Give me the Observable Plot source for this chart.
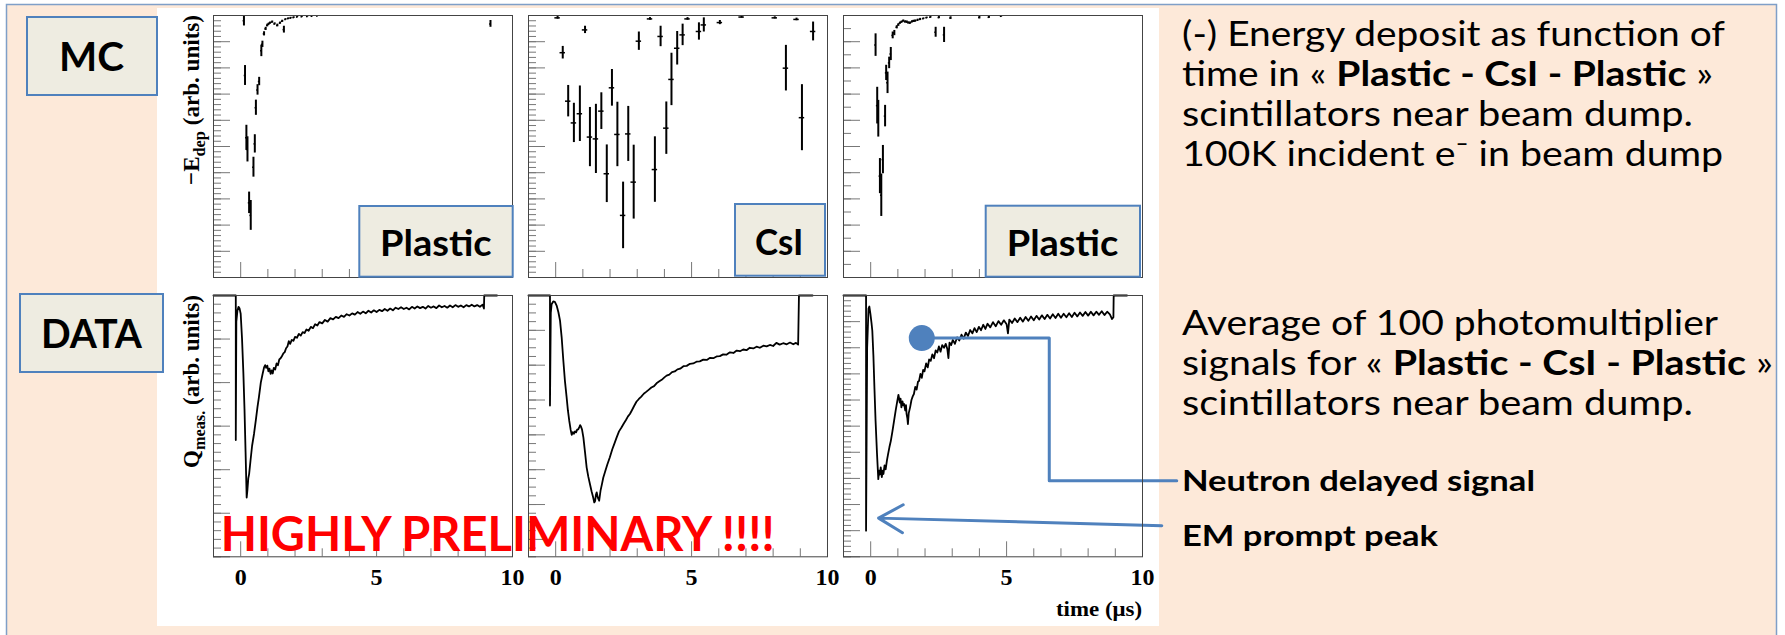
<!DOCTYPE html>
<html><head><meta charset="utf-8">
<script src="https://cdn.jsdelivr.net/npm/d3@7"></script>
<script src="https://cdn.jsdelivr.net/npm/@observablehq/plot@0.6"></script>
<style>
html,body{margin:0;padding:0;background:#fff;}
#slide{position:relative;width:1785px;height:635px;overflow:hidden;}
.abs{position:absolute;left:0;top:0;}
</style></head><body>
<div id="slide">
<svg class="abs" width="1785" height="635">
  <rect x="6.5" y="4.5" width="1770" height="640" fill="#fde9d9" stroke="#7f9fc8" stroke-width="1.5"/>
  <rect x="157" y="8" width="1002" height="618" fill="#ffffff"/>
</svg>
<div id="plots"></div>
<svg id="ov" class="abs" width="1785" height="635" style="pointer-events:none">
  <g fill="#eeece1" stroke="#4f81bd" stroke-width="2">
    <rect x="27" y="17" width="130" height="78"/>
    <rect x="20" y="294" width="143" height="78"/>
    <rect x="359.3" y="206" width="153.4" height="70.7"/>
    <rect x="735" y="204" width="90" height="71.7"/>
    <rect x="985.7" y="205.7" width="154.3" height="71"/>
  </g>
  <g font-family="Lato" font-weight="bold" fill="#000">
    <text x="59" y="70.5" font-size="40" textLength="65" lengthAdjust="spacingAndGlyphs">MC</text>
    <text x="41" y="348" font-size="40" textLength="101" lengthAdjust="spacingAndGlyphs">DATA</text>
    <text x="380" y="256" font-size="36" textLength="111.7" lengthAdjust="spacingAndGlyphs">Plastic</text>
    <text x="755" y="255" font-size="36" textLength="48.3" lengthAdjust="spacingAndGlyphs">CsI</text>
    <text x="1006.7" y="256" font-size="36" textLength="111.6" lengthAdjust="spacingAndGlyphs">Plastic</text>
    <text x="220.7" y="551" font-size="48" fill="#ff0000" textLength="554" lengthAdjust="spacingAndGlyphs">HIGHLY PRELIMINARY !!!!</text>
  </g>
  <g font-family="Liberation Serif" font-weight="bold" fill="#000">
    <text transform="translate(199,185) rotate(-90)" font-size="24" textLength="170" lengthAdjust="spacingAndGlyphs">−E<tspan dy="6" font-size="17">dep</tspan><tspan dy="-6"> (arb. units)</tspan></text>
    <text transform="translate(199,468) rotate(-90)" font-size="24" textLength="173" lengthAdjust="spacingAndGlyphs">Q<tspan dy="6" font-size="17">meas.</tspan><tspan dy="-6"> (arb. units)</tspan></text>
    <text x="1056" y="616" font-size="22" textLength="86" lengthAdjust="spacingAndGlyphs">time (μs)</text>
  </g>
  <g font-family="Lato" font-size="34" fill="#000">
    <text x="1182" y="46" textLength="543" lengthAdjust="spacingAndGlyphs">(-) Energy deposit as function of</text>
    <text x="1182" y="86" textLength="531" lengthAdjust="spacingAndGlyphs">time in « <tspan font-weight="bold">Plastic - CsI - Plastic</tspan> »</text>
    <text x="1182" y="126" textLength="511" lengthAdjust="spacingAndGlyphs">scintillators near beam dump.</text>
    <text x="1182" y="166" textLength="541" lengthAdjust="spacingAndGlyphs">100K incident e⁻ in beam dump</text>
    <text x="1182" y="334.5" textLength="536" lengthAdjust="spacingAndGlyphs">Average of 100 photomultiplier</text>
    <text x="1182" y="374.5" textLength="591" lengthAdjust="spacingAndGlyphs">signals for « <tspan font-weight="bold">Plastic - CsI - Plastic</tspan> »</text>
    <text x="1182" y="414.5" textLength="511" lengthAdjust="spacingAndGlyphs">scintillators near beam dump.</text>
  </g>
  <g font-family="Lato" font-size="28" font-weight="bold" fill="#000">
    <text x="1182" y="491" textLength="353" lengthAdjust="spacingAndGlyphs">Neutron delayed signal</text>
    <text x="1182" y="546" textLength="256" lengthAdjust="spacingAndGlyphs">EM prompt peak</text>
  </g>
</svg>
</div>
<script>
// ---------- data (time in µs, signal in arbitrary units) ----------
const timeTicksMajor = [0, 5, 10];
const timeTicksMinor = [-1, 1, 2, 3, 4, 6, 7, 8, 9];
const timeTickLabels = [0, 5, 10];

// MC: [time, -Edep, error]
const mcPlastic1 = [[0.12,-0.2,0.2],[0.16,-2.29,0.38],[0.21,-4.67,0.48],[0.25,-5.11,0.48],[0.31,-7.15,0.41],[0.37,-7.63,0.57],[0.47,-5.79,0.38],[0.52,-4.9,0.35],[0.56,-3.52,0.29],[0.62,-2.84,0.2],[0.68,-2.52,0.16],[0.76,-1.35,0.22],[0.8,-1.1,0.12],[0.86,-0.7,0.08],[0.92,-0.51,0.06],[0.98,-0.38,0.05],[1.03,-0.33,0.04],[1.08,-0.29,0.04],[1.16,-0.25,0.04],[1.25,-0.32,0.04],[1.35,-0.38,0.05],[1.45,-0.29,0.04],[1.53,-0.22,0.04],[1.59,-0.54,0.13],[1.65,-0.15,0.03],[1.75,-0.12,0.03],[1.84,-0.1,0.03],[1.95,-0.08,0.03],[2.08,-0.06,0.02],[2.25,-0.05,0.02],[2.45,-0.04,0.02],[2.62,-0.03,0.02],[2.82,-0.02,0.02],[9.19,-0.32,0.13]];
const mcCsI = [[0.07,-0.09,0.05],[0.26,-1.42,0.24],[0.46,-3.27,0.6],[0.67,-4.1,0.75],[0.89,-3.75,1.06],[1.08,-0.55,0.14],[1.26,-4.64,1.13],[1.48,-4.71,1.32],[1.68,-3.65,0.7],[1.88,-6.04,1.1],[2.07,-2.76,0.7],[2.27,-4.54,1.23],[2.48,-7.63,1.27],[2.67,-4.52,1.05],[2.87,-6.36,1.41],[3.06,-0.98,0.35],[3.47,-0.13,0.05],[3.65,-5.88,1.25],[3.86,-0.8,0.39],[4.07,-4.3,1.0],[4.26,-2.44,1.0],[4.47,-1.25,0.64],[4.67,-0.74,0.41],[4.85,-0.13,0.05],[5.27,-0.61,0.33],[5.45,-0.36,0.27],[6.04,-0.27,0.08],[6.84,-0.06,0.04],[8.06,-0.09,0.04],[8.47,-2.01,0.87],[8.86,-0.15,0.05],[9.06,-3.9,1.26],[9.47,-0.61,0.36]];
const mcPlastic3 = [[0.18,-1.13,0.43],[0.24,-3.44,0.7],[0.28,-3.94,0.7],[0.34,-6.13,0.67],[0.39,-6.86,0.81],[0.45,-5.5,0.54],[0.53,-3.84,0.41],[0.57,-2.19,0.29],[0.62,-2.57,0.41],[0.68,-1.81,0.22],[0.74,-1.47,0.25],[0.81,-0.76,0.13],[0.87,-0.67,0.1],[0.96,-0.45,0.06],[1.02,-0.36,0.05],[1.08,-0.29,0.04],[1.14,-0.25,0.04],[1.2,-0.21,0.04],[1.27,-0.24,0.04],[1.33,-0.25,0.04],[1.39,-0.28,0.04],[1.45,-0.29,0.04],[1.52,-0.24,0.04],[1.58,-0.22,0.04],[1.64,-0.21,0.04],[1.73,-0.18,0.04],[1.82,-0.15,0.04],[1.94,-0.12,0.03],[2.06,-0.09,0.03],[2.2,-0.07,0.03],[2.39,-0.64,0.19],[2.51,-0.08,0.04],[2.7,-0.74,0.29],[2.94,-0.1,0.05],[4.0,-0.08,0.05],[4.35,-0.07,0.04],[4.8,-0.03,0.03]];
const mcPlasticBinHalfWidth = 0.03;
const mcCsIBinHalfWidth = 0.1;

// DATA: [time, Qmeas]
const dataPlastic1 = [[-1,0],[-0.18,0],[-0.18,-3.32],[-0.16,-0.6],[-0.12,-0.35],[-0.08,-0.26],[-0.04,-0.3],[0.0,-0.42],[0.05,-1.0],[0.1,-1.8],[0.14,-2.6],[0.18,-3.6],[0.22,-4.64],[0.25,-4.45],[0.28,-4.2],[0.31,-4.1],[0.36,-3.8],[0.42,-3.45],[0.49,-3.18],[0.56,-2.85],[0.62,-2.55],[0.67,-2.34],[0.74,-2.0],[0.8,-1.82],[0.86,-1.65],[0.9,-1.6],[0.94,-1.66],[0.98,-1.61],[1.02,-1.74],[1.06,-1.68],[1.1,-1.8],[1.14,-1.72],[1.18,-1.79],[1.22,-1.66],[1.27,-1.7],[1.32,-1.56],[1.37,-1.6],[1.42,-1.47],[1.47,-1.44],[1.52,-1.39],[1.57,-1.33],[1.62,-1.3],[1.67,-1.21],[1.72,-1.17],[1.77,-1.05],[1.82,-1.11],[1.88,-1.02],[1.94,-1.04],[2.0,-0.95],[2.07,-0.97],[2.14,-0.88],[2.21,-0.92],[2.28,-0.84],[2.35,-0.86],[2.42,-0.78],[2.5,-0.81],[2.58,-0.72],[2.66,-0.75],[2.74,-0.66],[2.82,-0.69],[2.9,-0.61],[3.0,-0.64],[3.1,-0.56],[3.2,-0.6],[3.3,-0.52],[3.4,-0.55],[3.5,-0.49],[3.6,-0.52],[3.7,-0.46],[3.8,-0.49],[3.9,-0.43],[4.0,-0.46],[4.1,-0.41],[4.2,-0.44],[4.3,-0.38],[4.4,-0.42],[4.5,-0.37],[4.6,-0.41],[4.7,-0.35],[4.8,-0.39],[4.9,-0.34],[5.0,-0.38],[5.1,-0.33],[5.2,-0.36],[5.3,-0.31],[5.4,-0.35],[5.5,-0.3],[5.6,-0.34],[5.7,-0.28],[5.8,-0.31],[5.9,-0.27],[6.0,-0.31],[6.1,-0.28],[6.2,-0.32],[6.3,-0.26],[6.4,-0.3],[6.5,-0.25],[6.6,-0.29],[6.7,-0.26],[6.8,-0.3],[6.9,-0.24],[7.0,-0.28],[7.1,-0.25],[7.2,-0.29],[7.3,-0.23],[7.4,-0.27],[7.5,-0.24],[7.6,-0.28],[7.7,-0.23],[7.8,-0.27],[7.9,-0.22],[8.0,-0.26],[8.1,-0.23],[8.2,-0.27],[8.3,-0.22],[8.4,-0.25],[8.5,-0.21],[8.6,-0.25],[8.7,-0.22],[8.8,-0.26],[8.9,-0.21],[8.95,-0.3],[8.96,0],[9.43,0]];
const dataCsI = [[-1,0],[-0.21,0],[-0.21,-3.16],[-0.18,-0.5],[-0.15,-0.25],[-0.09,-0.17],[-0.03,-0.18],[0.04,-0.3],[0.1,-0.48],[0.16,-0.72],[0.22,-1.2],[0.28,-1.85],[0.34,-2.45],[0.4,-2.9],[0.45,-3.3],[0.5,-3.6],[0.55,-3.85],[0.59,-4.0],[0.63,-3.92],[0.67,-3.97],[0.71,-3.9],[0.75,-3.93],[0.79,-3.85],[0.83,-3.84],[0.87,-3.78],[0.9,-3.72],[0.93,-3.76],[0.97,-3.85],[1.02,-4.08],[1.08,-4.5],[1.14,-4.94],[1.2,-5.2],[1.26,-5.41],[1.32,-5.62],[1.38,-5.8],[1.42,-5.94],[1.45,-5.9],[1.48,-5.72],[1.51,-5.65],[1.55,-5.8],[1.6,-5.89],[1.65,-5.6],[1.7,-5.42],[1.75,-5.23],[1.82,-5.05],[1.9,-4.85],[1.99,-4.65],[2.08,-4.42],[2.16,-4.25],[2.24,-4.08],[2.33,-3.9],[2.42,-3.79],[2.5,-3.68],[2.58,-3.58],[2.66,-3.47],[2.73,-3.4],[2.8,-3.3],[2.88,-3.18],[2.97,-3.05],[3.06,-2.97],[3.15,-2.9],[3.24,-2.82],[3.34,-2.76],[3.43,-2.7],[3.52,-2.64],[3.62,-2.6],[3.71,-2.52],[3.8,-2.47],[3.9,-2.42],[4.0,-2.35],[4.08,-2.3],[4.18,-2.27],[4.28,-2.2],[4.38,-2.18],[4.48,-2.12],[4.58,-2.1],[4.7,-2.03],[4.82,-2.02],[4.94,-1.96],[5.06,-1.95],[5.18,-1.9],[5.3,-1.89],[5.43,-1.84],[5.56,-1.85],[5.68,-1.79],[5.8,-1.8],[5.92,-1.75],[6.04,-1.74],[6.16,-1.69],[6.28,-1.7],[6.41,-1.63],[6.54,-1.65],[6.66,-1.58],[6.78,-1.6],[6.9,-1.55],[7.02,-1.57],[7.14,-1.5],[7.27,-1.52],[7.39,-1.47],[7.51,-1.5],[7.64,-1.44],[7.76,-1.46],[7.88,-1.42],[8.0,-1.45],[8.12,-1.36],[8.24,-1.41],[8.37,-1.37],[8.5,-1.4],[8.62,-1.35],[8.74,-1.4],[8.84,-1.36],[8.92,-1.41],[8.95,0],[9.45,0]];
const dataPlastic3 = [[-1,0],[-0.17,0],[-0.17,-9.0],[-0.13,-2.0],[-0.08,-0.5],[-0.05,-0.42],[-0.01,-0.7],[0.03,-1.05],[0.06,-1.35],[0.1,-2.3],[0.14,-3.6],[0.18,-4.8],[0.23,-6.0],[0.28,-7.03],[0.31,-6.7],[0.34,-6.85],[0.37,-6.58],[0.41,-6.95],[0.44,-6.7],[0.47,-6.83],[0.51,-6.5],[0.55,-6.65],[0.6,-6.3],[0.64,-6.07],[0.69,-5.8],[0.74,-5.57],[0.8,-5.2],[0.86,-4.8],[0.92,-4.4],[0.98,-4.03],[1.02,-3.8],[1.04,-3.9],[1.07,-4.1],[1.1,-3.95],[1.13,-4.28],[1.17,-4.05],[1.2,-4.2],[1.23,-4.15],[1.27,-4.4],[1.3,-4.2],[1.32,-4.53],[1.35,-4.7],[1.37,-4.92],[1.4,-4.5],[1.45,-4.28],[1.5,-4.0],[1.55,-3.85],[1.59,-3.77],[1.64,-3.5],[1.69,-3.6],[1.74,-3.3],[1.78,-3.27],[1.83,-3.0],[1.88,-3.15],[1.93,-2.85],[1.98,-2.9],[2.04,-2.6],[2.1,-2.75],[2.15,-2.45],[2.21,-2.5],[2.27,-2.25],[2.33,-2.4],[2.39,-2.1],[2.45,-2.18],[2.51,-1.95],[2.57,-2.15],[2.63,-1.9],[2.7,-2.0],[2.76,-1.85],[2.82,-2.05],[2.86,-2.4],[2.9,-1.8],[2.96,-1.9],[3.02,-1.7],[3.1,-1.85],[3.18,-1.6],[3.26,-1.72],[3.34,-1.5],[3.42,-1.65],[3.5,-1.42],[3.58,-1.55],[3.66,-1.32],[3.74,-1.45],[3.82,-1.25],[3.9,-1.4],[3.98,-1.2],[4.06,-1.33],[4.14,-1.12],[4.22,-1.28],[4.3,-1.08],[4.4,-1.22],[4.5,-1.02],[4.6,-1.18],[4.7,-0.98],[4.8,-1.12],[4.9,-0.95],[5.0,-1.1],[5.05,-1.45],[5.1,-0.92],[5.2,-1.05],[5.3,-0.88],[5.4,-1.02],[5.5,-0.85],[5.6,-1.0],[5.7,-0.82],[5.8,-0.97],[5.9,-0.8],[6.0,-0.95],[6.1,-0.78],[6.2,-0.92],[6.3,-0.76],[6.4,-0.9],[6.5,-0.74],[6.6,-0.88],[6.7,-0.72],[6.8,-0.86],[6.9,-0.7],[7.0,-0.85],[7.1,-0.7],[7.2,-0.83],[7.3,-0.68],[7.4,-0.82],[7.5,-0.66],[7.6,-0.8],[7.7,-0.65],[7.8,-0.78],[7.9,-0.63],[8.0,-0.77],[8.1,-0.62],[8.2,-0.76],[8.3,-0.62],[8.4,-0.74],[8.5,-0.6],[8.6,-0.75],[8.7,-0.62],[8.8,-0.72],[8.88,-0.9],[8.93,-0.83],[8.94,0],[9.43,0]];

// annotations (in the coordinates of the right-hand DATA panel)
const neutronMarker = [[1.88, -1.63]];
const neutronConnector = [[1.88,-1.63],[6.57,-1.63],[6.57,-7.09],[11.26,-7.09]];
const emArrow = [{x1: 10.71, y1: -8.81, x2: 0.29, y2: -8.52}];

// ---------- drawing ----------
const FRAME_W = 299;
const tickColor = "#777";
const ink = "#000";
const blue = "#4f81bd";

function panel({left, top, h, yDomain, yMajor, yMinor, labels, marks, mr = 4}) {
  const ml = 4, mt = 4, mb = labels ? 40 : 4;
  const svg = Plot.plot({
    width: FRAME_W + ml + mr, height: h + mt + mb,
    marginLeft: ml, marginRight: mr, marginTop: mt, marginBottom: mb,
    x: {domain: [-1, 10]},
    y: {domain: yDomain},
    style: {background: "transparent", overflow: "visible", fontFamily: "Liberation Serif"},
    marks: [
      Plot.axisY(yMinor, {tickSize: -8, fill: "none", stroke: tickColor}),
      Plot.axisY(yMajor, {tickSize: -17, fill: "none", stroke: tickColor}),
      Plot.axisX(timeTicksMinor, {tickSize: -8, fill: "none", stroke: tickColor}),
      Plot.axisX(timeTicksMajor, {tickSize: -15, fill: "none", stroke: tickColor}),
      labels ? Plot.text(timeTickLabels, {x: d => d, text: d => String(d), frameAnchor: "bottom", lineAnchor: "middle", dy: 21, fontSize: 24, fontWeight: "bold", fontFamily: "Liberation Serif", fill: "#000"}) : null,
      ...marks,
      Plot.frame({stroke: "#444"})
    ]
  });
  svg.style.position = "absolute";
  svg.style.left = (left - ml) + "px";
  svg.style.top = (top - mt) + "px";
  document.getElementById("plots").appendChild(svg);
}

function mcMarks(data, hw) {
  return [
    Plot.ruleX(data, {x: d => d[0], y1: d => d[1] - d[2], y2: d => d[1] + d[2], stroke: ink, strokeWidth: 2, clip: true}),
    Plot.ruleY(data, {y: d => d[1], x1: d => d[0] - hw, x2: d => d[0] + hw, stroke: ink, strokeWidth: 1.5, clip: true})
  ];
}
function dataLine(data) {
  return Plot.line(data, {x: d => d[0], y: d => d[1], stroke: ink, strokeWidth: 1.8});
}

const lefts = [212.7, 528, 843.3];
const range = (a, b, s) => d3.range(a, b + s / 2, s);

// MC row
panel({left: lefts[0], top: 15, h: 262, yDomain: [-10, 0], yMajor: range(-10, 0, 1), yMinor: range(-10, 0, 0.2), marks: mcMarks(mcPlastic1, mcPlasticBinHalfWidth)});
panel({left: lefts[1], top: 15, h: 262, yDomain: [-10, 0], yMajor: range(-10, 0, 1), yMinor: range(-10, 0, 0.2), marks: mcMarks(mcCsI, mcCsIBinHalfWidth)});
panel({left: lefts[2], top: 15, h: 262, yDomain: [-10, 0], yMajor: range(-10, 0, 1), yMinor: range(-10, 0, 0.5), marks: mcMarks(mcPlastic3, mcPlasticBinHalfWidth)});

// DATA row
panel({left: lefts[0], top: 294.7, h: 261.3, yDomain: [-6, 0], yMajor: range(-6, 0, 1), yMinor: range(-6, 0, 0.2), labels: true, marks: [dataLine(dataPlastic1)]});
panel({left: lefts[1], top: 294.7, h: 261.3, yDomain: [-7.5, 0], yMajor: range(-7, 0, 1), yMinor: range(-7.5, 0, 0.25), labels: true, marks: [dataLine(dataCsI)]});
panel({left: lefts[2], top: 294.7, h: 261.3, yDomain: [-10, 0], yMajor: range(-10, 0, 1), yMinor: range(-10, 0, 0.2), labels: true, mr: 45, marks: [
  dataLine(dataPlastic3),
  Plot.line(neutronConnector, {x: d => d[0], y: d => d[1], stroke: blue, strokeWidth: 3}),
  Plot.dot(neutronMarker, {x: d => d[0], y: d => d[1], r: 13, fill: blue}),
  Plot.arrow(emArrow, {x1: "x1", y1: "y1", x2: "x2", y2: "y2", stroke: blue, strokeWidth: 3, headLength: 14})
]});
</script>
</body></html>
